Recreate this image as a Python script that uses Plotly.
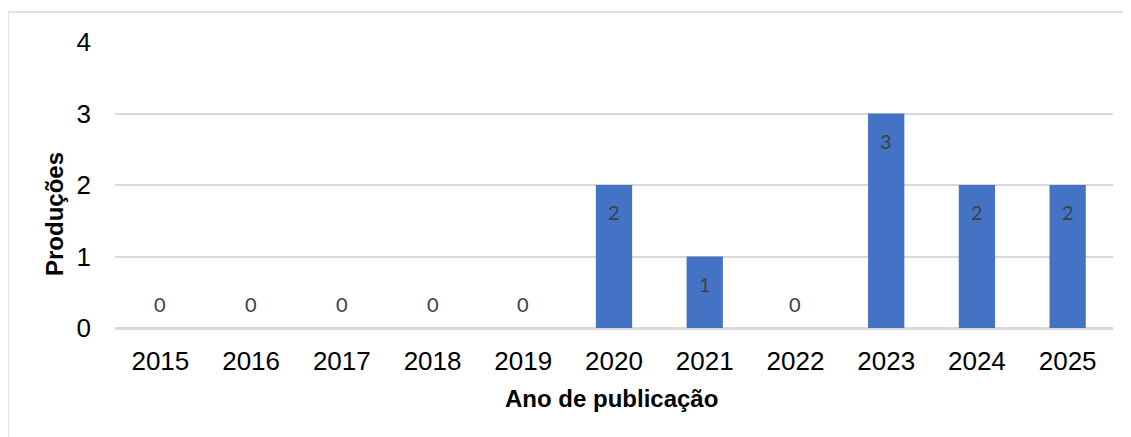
import plotly.graph_objects as go

years = ["2015", "2016", "2017", "2018", "2019", "2020", "2021", "2022", "2023", "2024", "2025"]
producoes = [0, 0, 0, 0, 0, 2, 1, 0, 3, 2, 2]
y_ticks = [0, 1, 2, 3, 4]

BAR = "#4472C4"
GRID = "#d9d9d9"
LABEL = "#404040"

fig = go.Figure()
fig.add_trace(go.Bar(
    x=years, y=producoes,
    marker=dict(color=BAR, line=dict(width=0)),
    hoverinfo="x+y",
))

# data labels: category axis positions are the serial index of each year
for i, v in enumerate(producoes):
    fig.add_annotation(
        x=i, y=v, xref="x", yref="y",
        text=str(v), showarrow=False,
        yshift=-27 if v > 0 else 24,
        font=dict(family="Lato", size=20, color=LABEL),
    )

fig.add_annotation(
    text="<b>Ano de publicação</b>", xref="paper", yref="paper",
    x=0.497, y=-0.245, showarrow=False, xanchor="center", yanchor="middle",
    font=dict(family="Liberation Sans", size=24, color="#000000"),
)
fig.add_annotation(
    text="<b>Produções</b>", xref="paper", yref="paper",
    x=-0.0611, y=0.3986, showarrow=False, xanchor="center", yanchor="middle",
    textangle=-90,
    font=dict(family="Liberation Sans", size=24, color="#000000"),
)

fig.add_shape(
    type="rect", xref="paper", yref="paper",
    x0=-0.1072, x1=1.04, y0=-0.5, y1=1.105,
    line=dict(color=GRID, width=1.5), fillcolor="rgba(0,0,0,0)", layer="below",
)

fig.update_layout(
    width=1131, height=437,
    margin=dict(l=107, r=26, t=34, b=117),
    paper_bgcolor="white", plot_bgcolor="white",
    bargap=0.6, showlegend=False,
    font=dict(family="Liberation Sans", size=26, color="#000000"),
)
fig.update_xaxes(
    type="category", range=[-0.5, 10.5],
    showgrid=False, showline=True, linecolor=GRID, linewidth=1.5,
    ticks="", ticklabelstandoff=9,
    tickfont=dict(family="Liberation Sans", size=26, color="#000000"),
)
fig.update_yaxes(
    range=[0, 4], tickvals=y_ticks, showgrid=True, gridcolor=GRID, gridwidth=1.5,
    zeroline=True, zerolinecolor=GRID, zerolinewidth=1.5,
    ticks="", ticklabelstandoff=23,
    tickfont=dict(family="Liberation Sans", size=26, color="#000000"),
)

fig.write_html("out.html")
